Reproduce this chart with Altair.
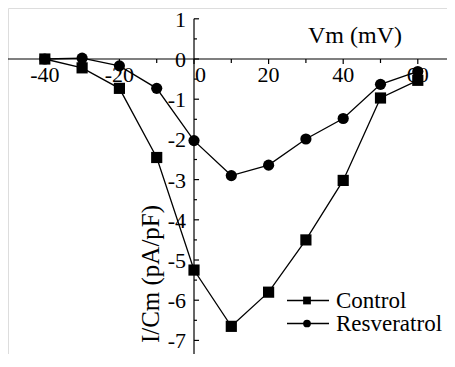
import altair as alt
import pandas as pd

# ---- data ----
vm = [-40, -30, -20, -10, 0, 10, 20, 30, 40, 50, 60]
control = [0.0, -0.22, -0.73, -2.45, -5.25, -6.65, -5.8, -4.5, -3.02, -0.97, -0.53]
resveratrol = [0.0, 0.02, -0.17, -0.73, -2.03, -2.9, -2.64, -1.99, -1.48, -0.63, -0.31]
series_names = ["Control", "Resveratrol"]
series_shapes = ["square", "circle"]

x_major = [-40, -20, 0, 20, 40, 60]
x_minor = [-30, -10, 10, 30, 50]
y_major = [1, 0, -1, -2, -3, -4, -5, -6, -7]
y_minor = [0.5, -0.5, -1.5, -2.5, -3.5, -4.5, -5.5, -6.5]

X_DOM = [-49.87, 67.83]
Y_DOM = [-7.338, 1.2687]
Y_AXIS_TOP = 1
FONT = "Liberation Serif"
FS = 22

rows = []
for name, vals in zip(series_names, [control, resveratrol]):
    for v, c in zip(vm, vals):
        rows.append({"vm": v, "i": c, "series": name})
df = pd.DataFrame(rows)

xs = alt.Scale(domain=X_DOM, nice=False, zero=False)
ys = alt.Scale(domain=Y_DOM, nice=False, zero=False)

X = lambda f: alt.X(f, type="quantitative", scale=xs, axis=None)
Y = lambda f: alt.Y(f, type="quantitative", scale=ys, axis=None)

# axis lines
xaxis = alt.Chart(pd.DataFrame({"a": [X_DOM[0]], "b": [X_DOM[1]], "y": [0]})).mark_rule(
    color="black", strokeWidth=1.2
).encode(x=X("a"), x2="b", y=Y("y"))
yaxis = alt.Chart(pd.DataFrame({"x": [0], "a": [Y_DOM[0]], "b": [Y_AXIS_TOP]})).mark_rule(
    color="black", strokeWidth=1.2
).encode(x=X("x"), y=Y("a"), y2="b")

# ticks
xt = pd.DataFrame({"v": x_major + x_minor, "len": [0.125] * len(x_major) + [0.1] * len(x_minor)})
xticks = alt.Chart(xt).transform_calculate(y0="0", y1="-datum.len").mark_rule(
    color="black", strokeWidth=1.2
).encode(x=X("v"), y=Y("y0:Q"), y2="y1:Q")

yt = pd.DataFrame({"v": y_major + y_minor, "len": [1.35] * len(y_major) + [0.8] * len(y_minor)})
yticks = alt.Chart(yt).transform_calculate(x0="0", x1="datum.len").mark_rule(
    color="black", strokeWidth=1.2
).encode(x=X("x0:Q"), x2="x1:Q", y=Y("v"))

# tick labels
xl = pd.DataFrame({"v": x_major, "t": [str(v) for v in x_major], "y": [0] * len(x_major)})
xlabels = alt.Chart(xl).transform_filter("datum.v != 0").mark_text(
    font=FONT, fontSize=FS, baseline="top", align="center", dy=6, color="black"
).encode(x=X("v"), y=Y("y"), text="t")
xlabel0 = alt.Chart(xl).transform_filter("datum.v == 0").mark_text(
    font=FONT, fontSize=FS, baseline="top", align="left", dy=6, dx=1, color="black"
).encode(x=X("v"), y=Y("y"), text="t")

yl = pd.DataFrame({"v": y_major, "t": [str(v) for v in y_major], "x": [0] * len(y_major)})
ylabels = alt.Chart(yl).mark_text(
    font=FONT, fontSize=FS, baseline="middle", align="right", dx=-8, dy=1, color="black"
).encode(x=X("x"), y=Y("v"), text="t")

# data
lines = alt.Chart(df).mark_line(color="black", strokeWidth=1.3).encode(
    x=X("vm"), y=Y("i"), detail="series:N"
)
points = alt.Chart(df).mark_point(filled=True, color="black", opacity=1, size=125).encode(
    x=X("vm"), y=Y("i"),
    shape=alt.Shape("series:N", scale=alt.Scale(domain=series_names, range=series_shapes), legend=None),
)

# titles
xtitle = alt.Chart(pd.DataFrame({"t": ["Vm (mV)"]})).mark_text(
    font=FONT, fontSize=24, align="center", baseline="middle", color="black"
).encode(x=alt.value(347), y=alt.value(28), text="t")
ytitle = alt.Chart(pd.DataFrame({"t": ["I/Cm (pA/pF)"]})).mark_text(
    font=FONT, fontSize=25, align="center", baseline="middle", angle=270, color="black"
).encode(x=alt.value(143), y=alt.value(266), text="t")

# legend
leg = pd.DataFrame({"series": series_names, "yp": [292.5, 315.5]})
leg_lines = alt.Chart(leg).mark_rule(color="black", strokeWidth=1.3).encode(
    x=alt.value(279), x2=alt.value(321), y=alt.Y("yp:Q", scale=None, axis=None)
)
leg_pts = alt.Chart(leg).mark_point(filled=True, color="black", opacity=1, size=60).encode(
    x=alt.value(299), y=alt.Y("yp:Q", scale=None, axis=None),
    shape=alt.Shape("series:N", scale=alt.Scale(domain=series_names, range=series_shapes), legend=None),
)
leg_txt = alt.Chart(leg).mark_text(
    font=FONT, fontSize=23, align="left", baseline="middle", color="black"
).encode(x=alt.value(328), y=alt.Y("yp:Q", scale=None, axis=None), text="series")

chart = alt.layer(
    xaxis, yaxis, xticks, yticks, xlabels, xlabel0, ylabels,
    lines, points, xtitle, ytitle, leg_lines, leg_pts, leg_txt
).properties(
    width=439, height=346,
    padding=0,
    autosize=alt.AutoSizeParams(type="none"),
).configure_view(stroke=None).configure(background="white")

chart.save("out.html", embed_options={"renderer": "svg", "actions": False})
